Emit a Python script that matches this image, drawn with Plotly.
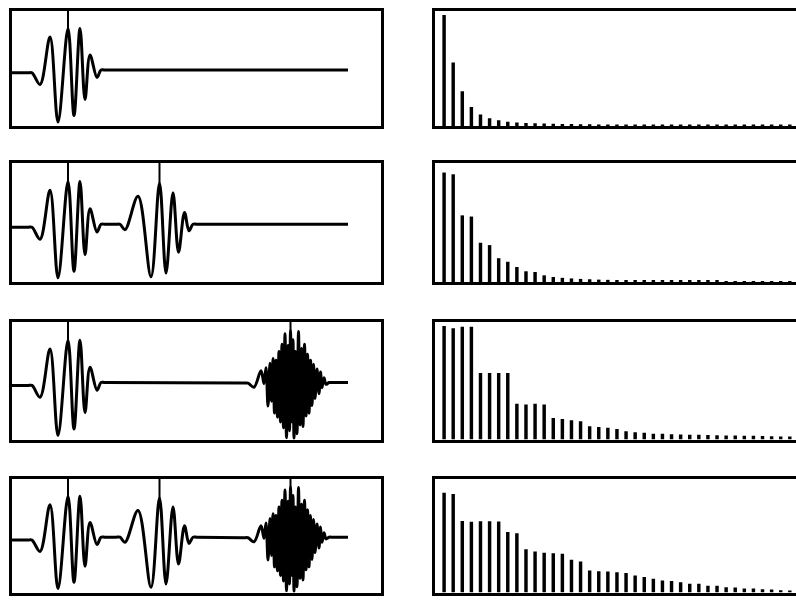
import plotly.graph_objects as go

# ---------------------------------------------------------------
# Pulse shapes: turning points (time, amplitude) of each pulse,
# with two level points at each end so the quiet stretches stay flat.
# Time runs 0..369 across a trace panel, amplitude spans -1..1.
# ---------------------------------------------------------------
PULSE_A_T = [0, 16, 20, 28, 38, 46, 56, 62, 68, 73, 78, 85, 89, 93]
PULSE_A_V = [-0.08, -0.08, -0.08, -0.28, 0.54, -0.93, 0.69, -0.82, 0.69, -0.54,
             0.23, -0.16, -0.03, -0.03]

PULSE_B_T = [104, 108, 113, 126, 139, 147.5, 154, 161, 166.5, 172.5, 177, 181, 185]
PULSE_B_V = [-0.03, -0.03, -0.12, 0.44, -0.91, 0.66, -0.85, 0.50, -0.50, 0.17,
             -0.14, -0.03, -0.03]

PULSE_C_T = [231, 236, 242, 249, 252, 254, 256, 258, 259.5, 261, 262.5,
             264, 265.5, 267, 268.5, 270, 271.5, 273, 274.5, 276, 277.5,
             278.5, 280, 281, 282, 283.5, 285, 286.5, 288, 289.5, 291,
             292.5, 294, 295.5, 297, 298.5, 300, 301.5, 303, 305, 307,
             308.5, 310, 312, 314, 317, 321]
PULSE_C_V = [-0.04, -0.04, -0.11, 0.17, -0.05, 0.22, -0.43, 0.30, -0.35, 0.38, -0.55,
             0.35, -0.62, 0.50, -0.70, 0.62, -0.80, 0.80, -0.97, 0.60, -0.85,
             0.85, -0.70, 0.70, -0.98, 0.50, -0.90, 0.84, -0.75, 0.55, -0.78,
             0.62, -0.60, 0.45, -0.55, 0.35, -0.42, 0.28, -0.30, 0.20, -0.22,
             0.15, -0.12, 0.05, -0.06, -0.03, -0.03]

# arrival marker of each pulse (time of the main crest)
MARK_T = {"A": 56, "B": 147.5, "C": 278.5}

# trailing quiet stretch up to the end of the record
TAIL_T = [332, 336]
TAIL_V = [-0.03, -0.03]

# which pulses make up the trace in each row
ROW_PULSES = [["A"], ["A", "B"], ["A", "C"], ["A", "B", "C"]]

# ---------------------------------------------------------------
# Line spectra: relative amplitude of harmonics 1..39 for each row
# ---------------------------------------------------------------
HARMONICS = list(range(1, 40))
SPECTRUM_1 = [0.96, 0.55, 0.30, 0.165, 0.10, 0.067, 0.05, 0.037, 0.03, 0.027,
              0.024, 0.022, 0.02, 0.018, 0.017, 0.016, 0.015, 0.014, 0.013, 0.012,
              0.012, 0.011, 0.011, 0.01, 0.01, 0.01, 0.009, 0.009, 0.009, 0.008,
              0.008, 0.008, 0.008, 0.007, 0.007, 0.007, 0.007, 0.006, 0.006]
SPECTRUM_2 = [0.92, 0.905, 0.56, 0.55, 0.33, 0.31, 0.20, 0.17, 0.126, 0.09,
              0.084, 0.056, 0.042, 0.035, 0.03, 0.026, 0.023, 0.02, 0.018, 0.016,
              0.015, 0.014, 0.013, 0.012, 0.011, 0.011, 0.01, 0.01, 0.009, 0.009,
              0.009, 0.008, 0.008, 0.008, 0.007, 0.007, 0.007, 0.007, 0.006]
SPECTRUM_3 = [0.966, 0.947, 0.96, 0.96, 0.565, 0.565, 0.565, 0.565, 0.305, 0.297,
              0.305, 0.297, 0.184, 0.175, 0.164, 0.155, 0.113, 0.107, 0.099, 0.09,
              0.07, 0.062, 0.057, 0.05, 0.048, 0.045, 0.042, 0.04, 0.04, 0.038,
              0.036, 0.035, 0.033, 0.032, 0.031, 0.03, 0.028, 0.026, 0.025]
SPECTRUM_4 = [0.875, 0.863, 0.627, 0.62, 0.625, 0.625, 0.622, 0.53, 0.52, 0.38,
              0.36, 0.348, 0.345, 0.34, 0.287, 0.272, 0.192, 0.187, 0.185, 0.178,
              0.17, 0.15, 0.135, 0.12, 0.105, 0.1, 0.09, 0.076, 0.076, 0.06,
              0.06, 0.047, 0.044, 0.035, 0.035, 0.028, 0.026, 0.02, 0.018]
SPECTRA = [SPECTRUM_1, SPECTRUM_2, SPECTRUM_3, SPECTRUM_4]

PULSES = {
    "A": (PULSE_A_T, PULSE_A_V),
    "B": (PULSE_B_T, PULSE_B_V),
    "C": (PULSE_C_T, PULSE_C_V),
}

# ---------------------------------------------------------------
# Page geometry (pixels on a 796 x 600 page)
# ---------------------------------------------------------------
W, H = 796, 600
ROW_TOP = [10.5, 163, 322, 478.5]
ROW_BOT = [126, 282, 439.5, 592.5]
LEFT_X = (12, 381)
RIGHT_X = (435, 796)
TRACE_RANGE = [0, 369]
SPEC_RANGE = [0, 39.68]

INK = "black"
BORDER_W = 3

fig = go.Figure()
layout_axes = {}

for r in range(4):
    ydom = [1 - ROW_BOT[r] / H, 1 - ROW_TOP[r] / H]
    li, ri = 2 * r + 1, 2 * r + 2
    lx, ly = ("x", "y") if li == 1 else (f"x{li}", f"y{li}")
    rx, ry = f"x{ri}", f"y{ri}"

    # --- time trace: concatenate the pulses of this row ---
    xs, ys = [], []
    for name in ROW_PULSES[r]:
        t, v = PULSES[name]
        xs += list(t)
        ys += list(v)
    xs += TAIL_T
    ys += TAIL_V
    fig.add_trace(go.Scatter(
        x=xs, y=ys, mode="lines",
        line=dict(color=INK, width=3, shape="spline", smoothing=1.0),
        xaxis=lx, yaxis=ly, hoverinfo="skip"))

    # thin arrival markers rising from each crest to the frame
    mx, my = [], []
    for name in ROW_PULSES[r]:
        t, v = PULSES[name]
        crest = dict(zip(t, v))[MARK_T[name]]
        mx += [MARK_T[name], MARK_T[name], None]
        my += [crest, 1.02, None]
    fig.add_trace(go.Scatter(
        x=mx, y=my, mode="lines", line=dict(color=INK, width=2),
        xaxis=lx, yaxis=ly, hoverinfo="skip"))

    # --- line spectrum ---
    fig.add_trace(go.Bar(
        x=HARMONICS, y=SPECTRA[r], width=0.38,
        marker=dict(color=INK, line=dict(width=0)),
        xaxis=rx, yaxis=ry, hoverinfo="skip"))

    common = dict(showgrid=False, zeroline=False, showticklabels=False,
                  ticks="", showline=True, linecolor=INK, linewidth=BORDER_W,
                  fixedrange=True)
    layout_axes["xaxis" if li == 1 else f"xaxis{li}"] = dict(
        common, domain=[LEFT_X[0] / W, LEFT_X[1] / W], range=TRACE_RANGE,
        mirror=True, anchor=ly)
    layout_axes["yaxis" if li == 1 else f"yaxis{li}"] = dict(
        common, domain=ydom, range=[-1, 1], mirror=True, anchor=lx)
    layout_axes[f"xaxis{ri}"] = dict(
        common, domain=[RIGHT_X[0] / W, 1.0], range=SPEC_RANGE,
        mirror=True, anchor=ry)
    layout_axes[f"yaxis{ri}"] = dict(
        common, domain=ydom, range=[0, 1], mirror=False, anchor=rx)

fig.update_layout(
    width=W, height=H,
    margin=dict(l=0, r=0, t=0, b=0),
    paper_bgcolor="white", plot_bgcolor="white",
    showlegend=False,
    **layout_axes,
)

fig.write_html("out.html", config={"displayModeBar": False})
